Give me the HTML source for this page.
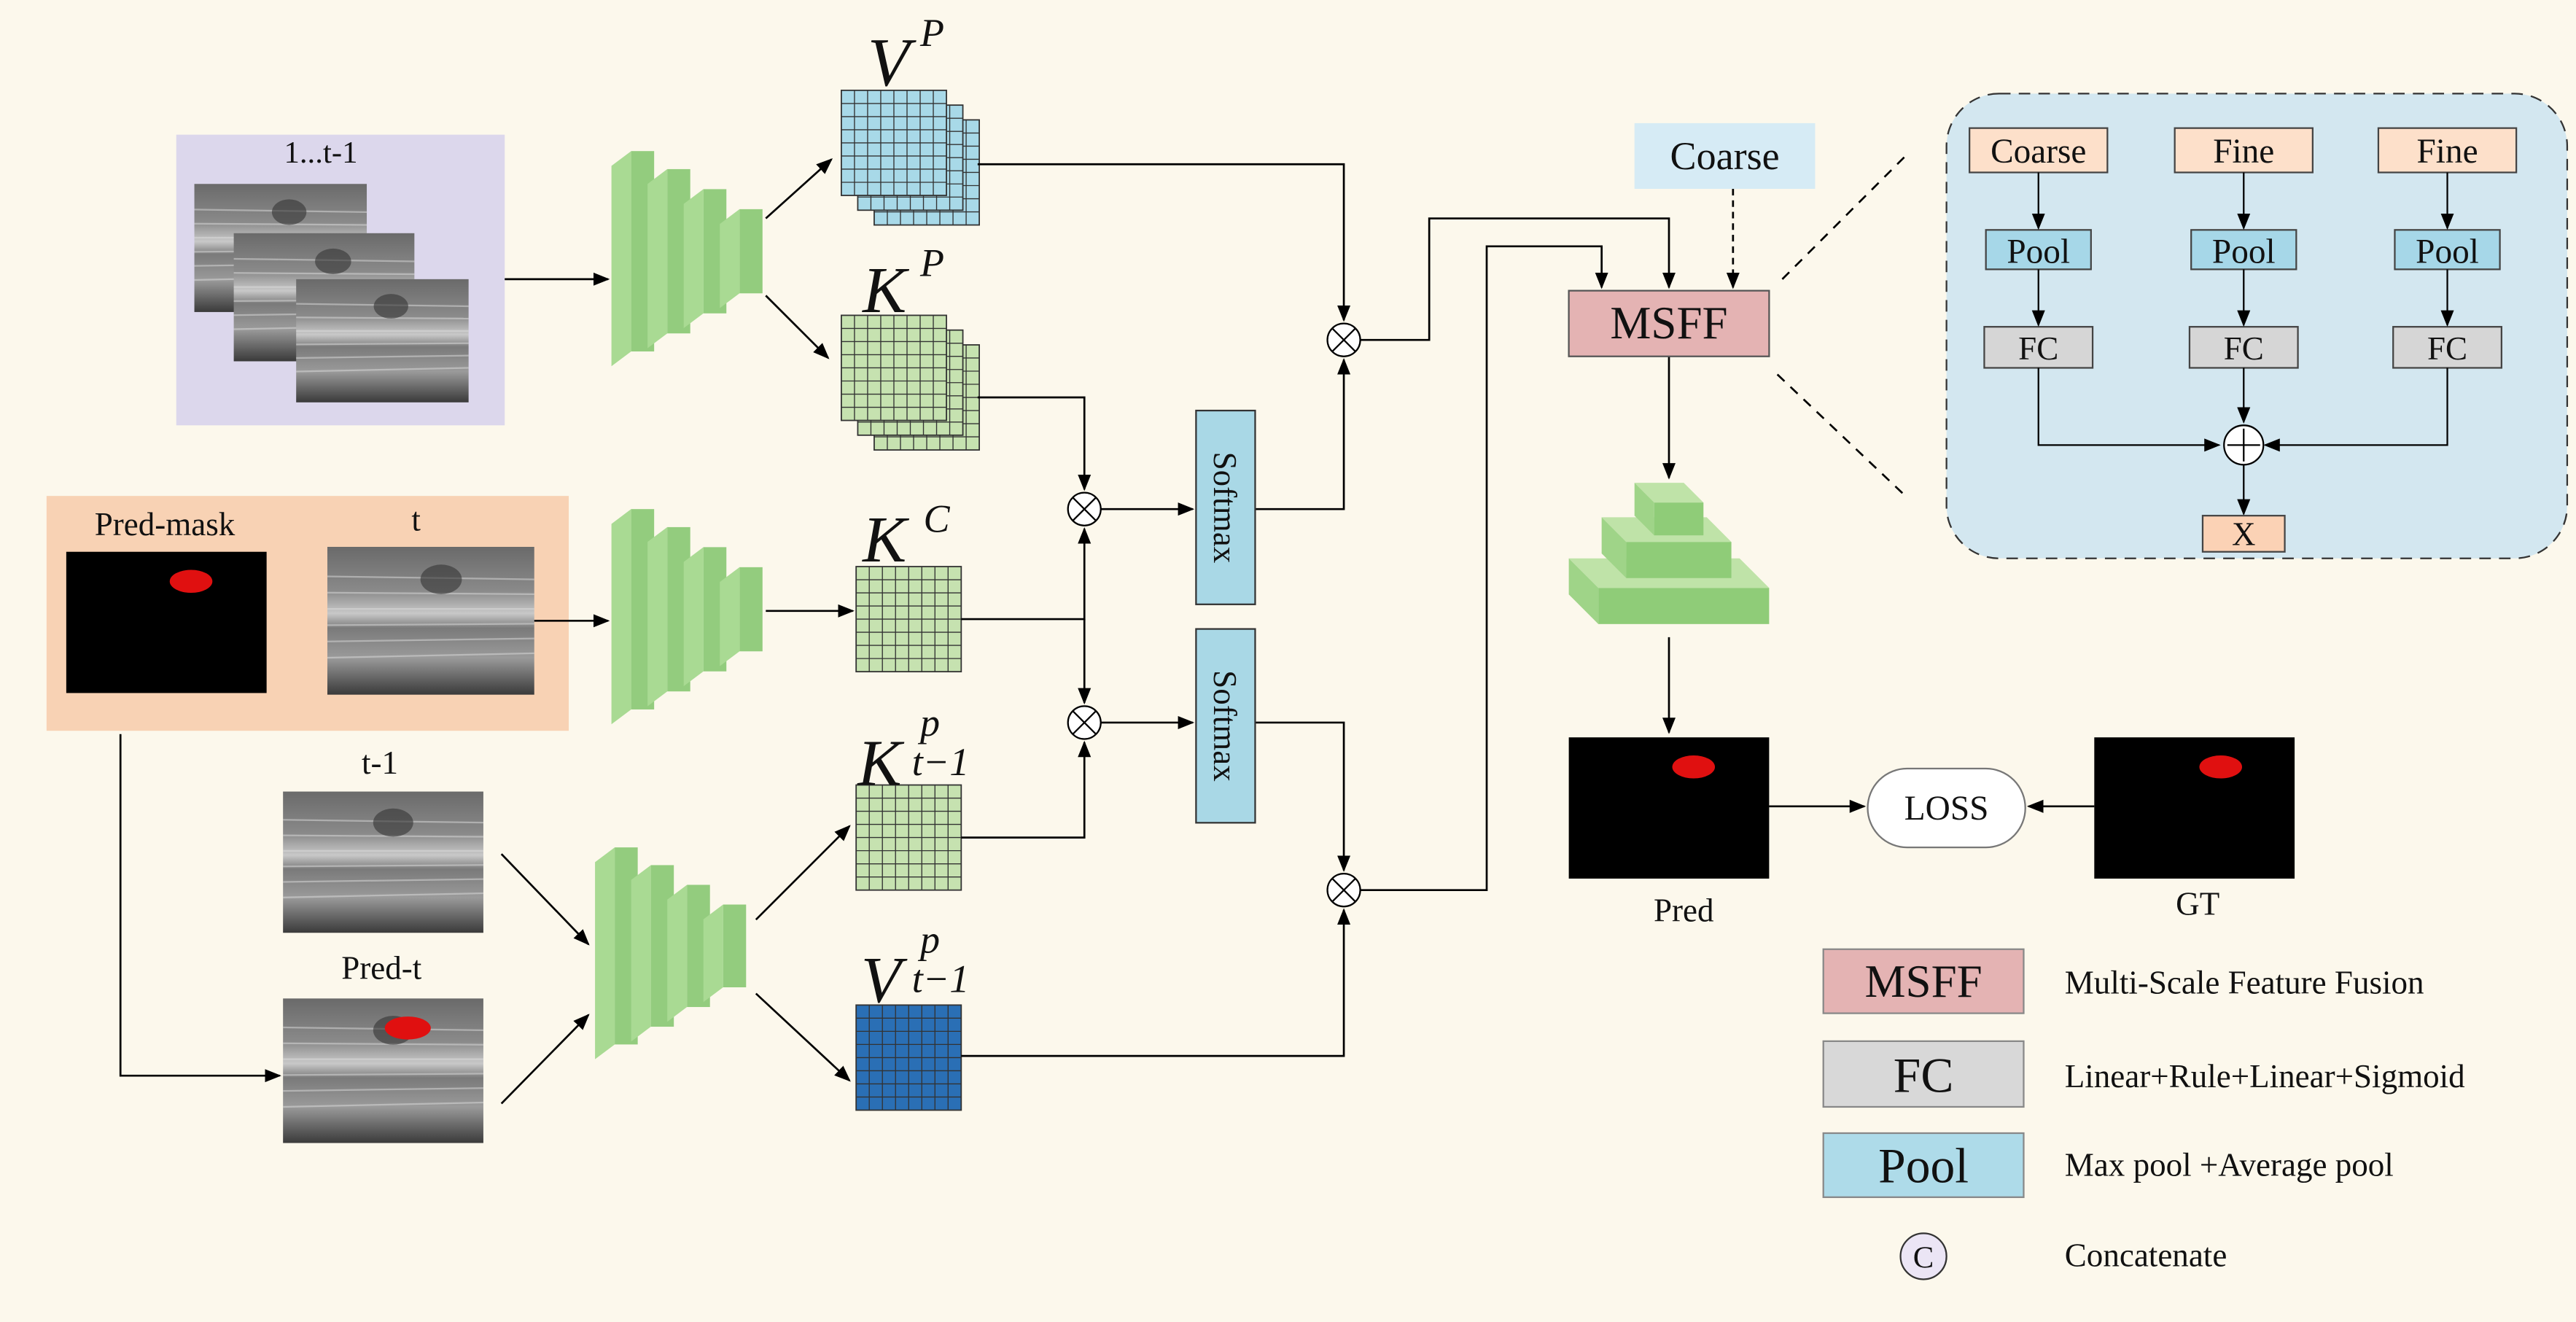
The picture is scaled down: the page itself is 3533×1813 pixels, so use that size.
<!DOCTYPE html>
<html><head><meta charset="utf-8"><style>
html,body{margin:0;padding:0;background:#fcf8ec;}
svg{display:block}
text{font-family:"Liberation Serif",serif;fill:#111}
</style></head><body>
<svg id="s" width="3533" height="1813" viewBox="0 0 1568 805" xmlns="http://www.w3.org/2000/svg">
<defs>
<marker id="a" markerWidth="10" markerHeight="10" refX="9" refY="5" orient="auto" markerUnits="userSpaceOnUse"><path d="M0,1 L10,5 L0,9 z" fill="#000"/></marker>
<linearGradient id="us" x1="0" y1="0" x2="0" y2="1">
<stop offset="0" stop-color="#6a6a6a"/><stop offset="0.3" stop-color="#8a8a8a"/><stop offset="0.45" stop-color="#c8c8c8"/><stop offset="0.55" stop-color="#7a7a7a"/><stop offset="0.75" stop-color="#9a9a9a"/><stop offset="1" stop-color="#3a3a3a"/>
</linearGradient>
</defs>
<rect width="1568" height="805" fill="#fcf8ec"/>
<g id="g"></g>
<g stroke="#000" stroke-width="1.2" fill="none">
<line x1="307" y1="170" x2="370" y2="170" marker-end="url(#a)"/>
<line x1="466" y1="133" x2="506" y2="97" marker-end="url(#a)"/>
<line x1="466" y1="180" x2="504" y2="218" marker-end="url(#a)"/>
<line x1="325" y1="378" x2="370" y2="378" marker-end="url(#a)"/>
<line x1="466" y1="372" x2="519" y2="372" marker-end="url(#a)"/>
<polyline points="73,447 73,655 170,655" marker-end="url(#a)"/>
<line x1="305" y1="520" x2="358" y2="575" marker-end="url(#a)"/>
<line x1="305" y1="672" x2="358" y2="618" marker-end="url(#a)"/>
<line x1="460" y1="560" x2="517" y2="503" marker-end="url(#a)"/>
<line x1="460" y1="605" x2="517" y2="658" marker-end="url(#a)"/>
<polyline points="595,100 818,100 818,195" marker-end="url(#a)"/>
<polyline points="595,242 660,242 660,298" marker-end="url(#a)"/>
<polyline points="585,377 660,377 660,322" marker-end="url(#a)"/>
<polyline points="660,377 660,428" marker-end="url(#a)"/>
<polyline points="585,510 660,510 660,452" marker-end="url(#a)"/>
<line x1="670" y1="310" x2="726" y2="310" marker-end="url(#a)"/>
<line x1="670" y1="440" x2="726" y2="440" marker-end="url(#a)"/>
<polyline points="764,310 818,310 818,219" marker-end="url(#a)"/>
<polyline points="764,440 818,440 818,530" marker-end="url(#a)"/>
<polyline points="585,643 818,643 818,554" marker-end="url(#a)"/>
<polyline points="828,207 870,207 870,133 1016,133 1016,175" marker-end="url(#a)"/>
<polyline points="828,542 905,542 905,150 975,150 975,175" marker-end="url(#a)"/>
<line x1="1055" y1="115" x2="1055" y2="175" stroke-dasharray="4,3" marker-end="url(#a)"/>
<line x1="1016" y1="217" x2="1016" y2="291" marker-end="url(#a)"/>
<line x1="1016" y1="388" x2="1016" y2="446" marker-end="url(#a)"/>
<line x1="1077" y1="491" x2="1135" y2="491" marker-end="url(#a)"/>
<line x1="1275" y1="491" x2="1235" y2="491" marker-end="url(#a)"/>
<line x1="1085" y1="170" x2="1160" y2="95" stroke-dasharray="6,5"/>
<line x1="1082" y1="228" x2="1160" y2="302" stroke-dasharray="6,5"/>
</g>
<!-- multipliers -->
<g id="mul" stroke="#000" stroke-width="1" fill="#fff"></g>
<!-- softmax -->
<rect x="728" y="250" width="36" height="118" fill="#a9d8e6" stroke="#333"/>
<rect x="728" y="383" width="36" height="118" fill="#a9d8e6" stroke="#333"/>
<text transform="translate(739,309) rotate(90)" text-anchor="middle" font-size="20">Softmax</text>
<text transform="translate(739,442) rotate(90)" text-anchor="middle" font-size="20">Softmax</text>
<!-- coarse & MSFF -->
<rect x="995" y="75" width="110" height="40" fill="#d6ebf5"/>
<text x="1050" y="103" text-anchor="middle" font-size="24">Coarse</text>
<rect x="955" y="177" width="122" height="40" fill="#e4b3b3" stroke="#555"/>
<text x="1016" y="206" text-anchor="middle" font-size="28">MSFF</text>
<!-- pred / loss / gt -->
<rect x="955" y="449" width="122" height="86" fill="#000"/>
<ellipse cx="1031" cy="467" rx="13" ry="7" fill="#e01010"/>
<text x="1025" y="561" text-anchor="middle" font-size="20">Pred</text>
<rect x="1137" y="468" width="96" height="48" rx="24" fill="#fff" stroke="#777"/>
<text x="1185" y="499" text-anchor="middle" font-size="21">LOSS</text>
<rect x="1275" y="449" width="122" height="86" fill="#000"/>
<ellipse cx="1352" cy="467" rx="13" ry="7" fill="#e01010"/>
<text x="1338" y="557" text-anchor="middle" font-size="20">GT</text>
<!-- inset -->
<rect x="1185" y="57" width="378" height="283" rx="32" fill="#d3e7f0" stroke="#333" stroke-dasharray="7,5"/>
<g id="inset"></g>
<!-- legend -->
<rect x="1110" y="578" width="122" height="39" fill="#e4b3b3" stroke="#888"/>
<text x="1171" y="607" text-anchor="middle" font-size="28">MSFF</text>
<rect x="1110" y="634" width="122" height="40" fill="#d8d8d8" stroke="#888"/>
<text x="1171" y="665" text-anchor="middle" font-size="30">FC</text>
<rect x="1110" y="690" width="122" height="39" fill="#aedbe9" stroke="#888"/>
<text x="1171" y="720" text-anchor="middle" font-size="30">Pool</text>
<circle cx="1171" cy="765" r="14" fill="#ebe5f5" stroke="#333"/>
<text x="1171" y="772" text-anchor="middle" font-size="19">C</text>
<text x="1257" y="605" font-size="20">Multi-Scale Feature Fusion</text>
<text x="1257" y="662" font-size="20">Linear+Rule+Linear+Sigmoid</text>
<text x="1257" y="716" font-size="20">Max pool +Average pool</text>
<text x="1257" y="771" font-size="20">Concatenate</text>
<!-- math labels -->
<g font-style="italic">
<text x="528" y="52" font-size="42">V</text><text x="560" y="28" font-size="24">P</text>
<text x="525" y="190" font-size="40">K</text><text x="560" y="168" font-size="24">P</text>
<text x="525" y="342" font-size="40">K</text><text x="562" y="324" font-size="24">C</text>
<text x="522" y="478" font-size="40">K</text><text x="560" y="448" font-size="24">p</text><text x="555" y="472" font-size="24">t−1</text>
<text x="524" y="610" font-size="40">V</text><text x="560" y="580" font-size="24">p</text><text x="555" y="604" font-size="24">t−1</text>
</g>
</svg>
<script>
const NS="http://www.w3.org/2000/svg",g=document.getElementById('g');
function el(t,a,p){const e=document.createElementNS(NS,t);for(const k in a)e.setAttribute(k,a[k]);(p||g).appendChild(e);return e;}
function txt(x,y,s,fs,p,anchor){const e=el('text',{x,y,'font-size':fs,'text-anchor':anchor||'middle'},p);e.textContent=s;return e;}
// panels
el('rect',{x:107,y:82,width:200,height:177,fill:'#dcd7ec'});
txt(195,99,'1...t-1',19);
el('rect',{x:28,y:302,width:318,height:143,fill:'#f8d2b4'});
txt(100,326,'Pred-mask',20);txt(253,323,'t',20);
function us(x,y,w,h){el('rect',{x,y,width:w,height:h,fill:'url(#us)'});
 for(let i=0;i<6;i++){el('line',{x1:x,y1:y+h*(0.2+i*0.11),x2:x+w,y2:y+h*(0.22+i*0.1),stroke:'#ddd','stroke-width':1,opacity:0.5});}
 el('ellipse',{cx:x+w*0.55,cy:y+h*0.22,rx:w*0.1,ry:h*0.1,fill:'#333',opacity:0.6});}
us(118,112,105,78);us(142,142,110,78);us(180,170,105,75);
el('rect',{x:40,y:336,width:122,height:86,fill:'#000'});
el('ellipse',{cx:116,cy:354,rx:13,ry:7,fill:'#e01010'});
us(199,333,126,90);
txt(231,471,'t-1',20);us(172,482,122,86);
txt(232,596,'Pred-t',20);us(172,608,122,88);
el('ellipse',{cx:248,cy:626,rx:14,ry:7,fill:'#e01010'});
// encoders
function enc(x0,yc,h0){const hs=[h0,h0*0.82,h0*0.62,h0*0.42];let x=x0;
 hs.forEach((h,i)=>{const y=yc-h/2;
  el('polygon',{points:`${x},${y} ${x+12},${y-9} ${x+12},${y+h-9} ${x},${y+h}`,fill:'#a9da93'});
  el('rect',{x:x+12,y:y-9,width:14,height:h,fill:'#93cc7e'});
  x+=22;});}
enc(372,162,122);enc(372,380,122);enc(362,585,120);
// grids
function grid(x,y,n,c,layers){for(let l=layers-1;l>=0;l--){const ox=x+l*10,oy=y+l*9;
 el('rect',{x:ox,y:oy,width:n*8,height:n*8,fill:c,stroke:'#333','stroke-width':0.8});
 for(let i=1;i<n;i++){el('line',{x1:ox+i*8,y1:oy,x2:ox+i*8,y2:oy+n*8,stroke:'#333','stroke-width':0.6});
  el('line',{x1:ox,y1:oy+i*8,x2:ox+n*8,y2:oy+i*8,stroke:'#333','stroke-width':0.6});}}}
grid(512,55,8,'#a8d9e8',3);grid(512,192,8,'#c6e2b0',3);
grid(521,345,8,'#c6e2b0',1);grid(521,478,8,'#c6e2b0',1);grid(521,612,8,'#2a6fb5',1);
// pyramid
function tier(x,y,w,h,d){el('polygon',{points:`${x},${y} ${x+w},${y} ${x+w+d},${y+d} ${x+d},${y+d}`,fill:'#bfe3a8'});
 el('polygon',{points:`${x},${y} ${x+d},${y+d} ${x+d},${y+d+h} ${x},${y+h}`,fill:'#9fd488'});
 el('rect',{x:x+d,y:y+d,width:w,height:h,fill:'#8fcc78'});}
tier(955,340,104,22,18);tier(975,315,64,22,15);tier(995,294,30,20,12);
// multipliers
const m=document.getElementById('mul');
[[660,310],[660,440],[818,207],[818,542]].forEach(([x,y])=>{el('circle',{cx:x,cy:y,r:10},m);
 el('line',{x1:x-7,y1:y-7,x2:x+7,y2:y+7},m);el('line',{x1:x-7,y1:y+7,x2:x+7,y2:y-7},m);});
// inset
const I=document.getElementById('inset');
const cols=[1241,1366,1490],lab=['Coarse','Fine','Fine'];
cols.forEach((cx,i)=>{el('rect',{x:cx-42,y:78,width:84,height:27,fill:'#fde0ca',stroke:'#444'},I);txt(cx,99,lab[i],21,I);
 el('rect',{x:cx-32,y:140,width:64,height:24,fill:'#a6d7e8',stroke:'#444'},I);txt(cx,160,'Pool',21,I);
 el('rect',{x:cx-33,y:199,width:66,height:25,fill:'#d6d6d6',stroke:'#444'},I);txt(cx,219,'FC',20,I);
 el('line',{x1:cx,y1:105,x2:cx,y2:139,stroke:'#000','marker-end':'url(#a)'},I);
 el('line',{x1:cx,y1:164,x2:cx,y2:198,stroke:'#000','marker-end':'url(#a)'},I);});
el('polyline',{points:'1241,224 1241,271 1351,271',fill:'none',stroke:'#000','marker-end':'url(#a)'},I);
el('polyline',{points:'1490,224 1490,271 1379,271',fill:'none',stroke:'#000','marker-end':'url(#a)'},I);
el('line',{x1:1366,y1:224,x2:1366,y2:257,stroke:'#000','marker-end':'url(#a)'},I);
el('circle',{cx:1366,cy:271,r:12,fill:'#fff',stroke:'#000'},I);
el('line',{x1:1356,y1:271,x2:1376,y2:271,stroke:'#000'},I);el('line',{x1:1366,y1:261,x2:1366,y2:281,stroke:'#000'},I);
el('line',{x1:1366,y1:283,x2:1366,y2:313,stroke:'#000','marker-end':'url(#a)'},I);
el('rect',{x:1341,y:314,width:50,height:22,fill:'#fbd2b5',stroke:'#444'},I);txt(1366,332,'X',20,I);
</script>
</body></html>
